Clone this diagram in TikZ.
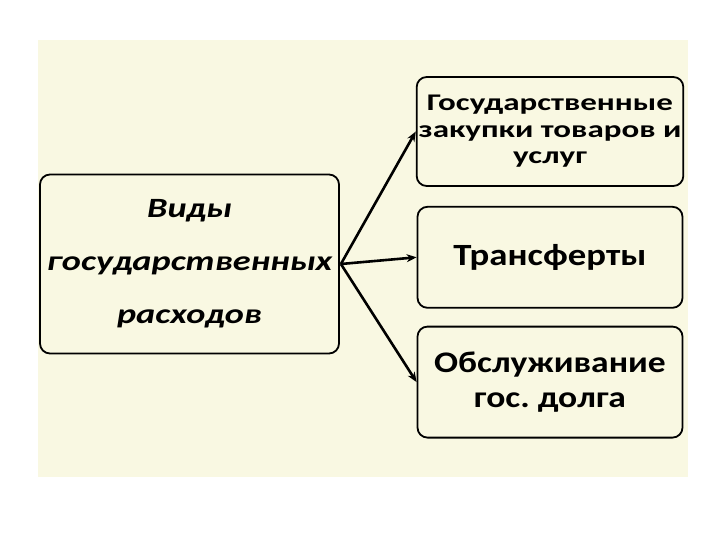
\documentclass[tikz,border=0pt]{standalone}
\usepackage{fontspec}
\setmainfont{Carlito}
\newfontfamily\wideA[FakeStretch=1.38]{Carlito}
\newfontfamily\wideB[FakeStretch=1.19]{Carlito}
\newfontfamily\wideC[FakeStretch=1.30]{Carlito}
\usetikzlibrary{arrows.meta,positioning}
\definecolor{cream}{HTML}{F9F8E2}

\begin{document}
\begin{tikzpicture}[
  x=1bp, y=-1bp,
  box/.style={draw, line width=1.8bp, rounded corners=10bp, align=center,
              inner sep=2bp, minimum width=265bp},
  arrow/.style={-{Stealth[length=10bp,width=8bp]}, line width=2.6bp}
]
\useasboundingbox (0,0) rectangle (720,540);
\fill[cream] (38,40) rectangle (688,477);
% left box
\node[box, minimum width=299bp, minimum height=179bp,
      font=\wideC\bfseries\itshape\fontsize{28}{53}\selectfont] (kinds) at (189.5,264)
  {Виды\\государственных\\расходов};
% right column
\node[box, minimum height=109bp, font=\wideA\bfseries\fontsize{24}{26.5}\selectfont] (purch) at (550,131.5)
  {Государственные\\закупки товаров и\\услуг};
\node[box, minimum height=101bp, below=19bp of purch, font=\wideB\bfseries\fontsize{31}{36}\selectfont] (trans)
  {Трансферты};
\node[box, minimum height=111bp, below=17bp of trans, font=\wideB\bfseries\fontsize{30}{35}\selectfont] (debt)
  {Обслуживание\\гос.\ долга};
\coordinate (src) at ([xshift=1bp]kinds.east);
\draw[arrow] (src) -- (purch.west);
\draw[arrow] (src) -- (trans.west);
\draw[arrow] (src) -- (debt.west);
\end{tikzpicture}
\end{document}
